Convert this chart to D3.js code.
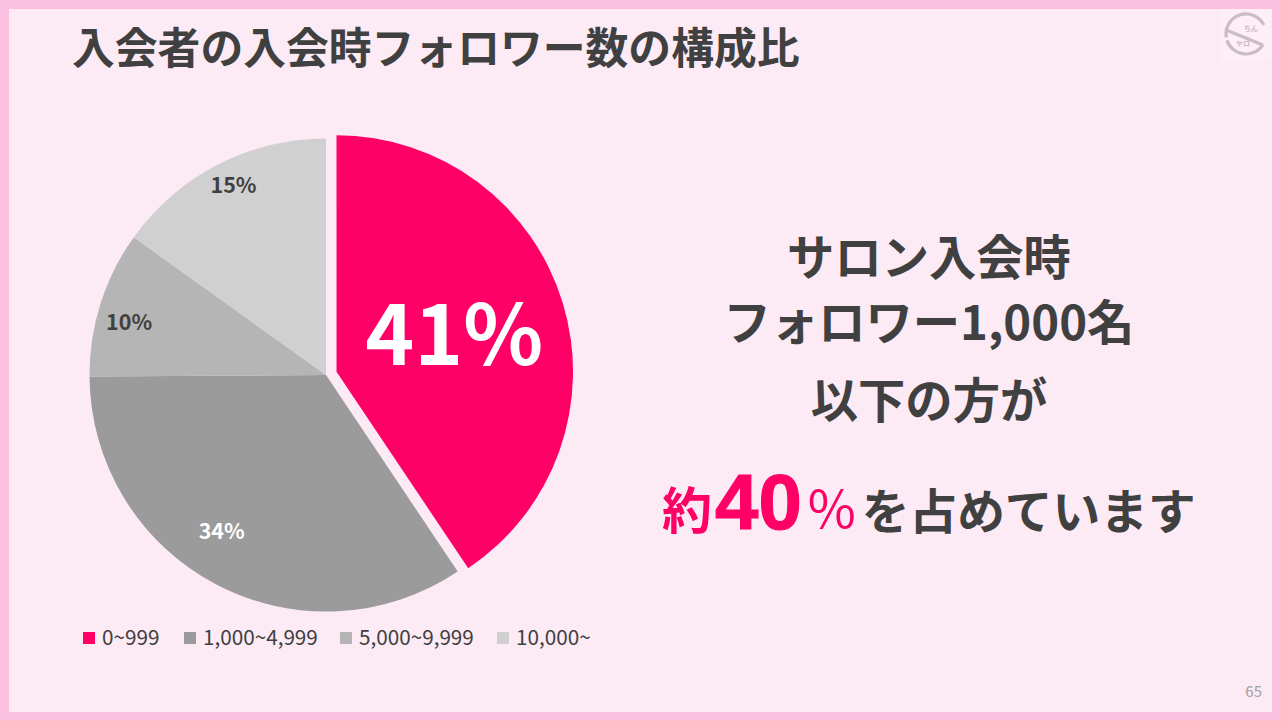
<!DOCTYPE html>
<html lang="ja">
<head>
<meta charset="utf-8">
<script src="https://cdn.jsdelivr.net/npm/d3@7"></script>
<style>
  html, body { margin: 0; padding: 0; background: #fceaf5; }
  svg { display: block; }
  text { font-family: "Noto Sans CJK JP", "Noto Sans", sans-serif; }
</style>
</head>
<body>
<div id="chart"></div>
<script>
const categories = ["0~999", "1,000~4,999", "5,000~9,999", "10,000~"];
const shares = [40.6, 34.3, 10, 15.1];
const sliceColors = ["#ff0066", "#9b9b9b", "#b5b5b5", "#d0d0d0"];
const labelColors = ["#fff", "#fff", "#404040", "#404040"];
const titleText = "入会者の入会時フォロワー数の構成比";
const pageNumber = "65";

const width = 1280, height = 720;
const pink = "#ff0066", dark = "#404040";

const svg = d3.select("#chart").append("svg")
  .attr("width", width)
  .attr("height", height);

// slide frame
svg.append("rect").attr("width", width).attr("height", height).attr("fill", "#fbc0e0");
svg.append("rect").attr("x", 9).attr("y", 9).attr("width", 1263).attr("height", 703).attr("fill", "#fceaf5");

svg.append("text")
  .attr("x", 72).attr("y", 64)
  .attr("font-size", 42.8).attr("font-weight", 700).attr("fill", dark)
  .text(titleText);

// pie, first slice pulled out
const cx = 326, cy = 375, radius = 236.5, explode = 11;
const pie = d3.pie().sort(null).value(d => d)(shares);
const arc = d3.arc().innerRadius(0).outerRadius(radius);
const pieG = svg.append("g").attr("transform", `translate(${cx},${cy})`);

function sliceShift(d, i) {
  if (i !== 0) return [0, 0];
  const a = (d.startAngle + d.endAngle) / 2;
  return [Math.sin(a) * explode, -Math.cos(a) * explode];
}

pieG.selectAll("path")
  .data(pie)
  .enter()
  .append("path")
  .attr("d", arc)
  .attr("transform", (d, i) => `translate(${sliceShift(d, i)})`)
  .attr("fill", (d, i) => sliceColors[i]);

// labels were placed by hand in the slide, so radius and angle differ per slice
const labelRadius = [0.52, 0.795, 0.862, 0.893];
const labelAngle = [0, 5.8, -2.6, 1.2];
pieG.selectAll("text")
  .data(pie)
  .enter()
  .append("text")
  .attr("transform", (d, i) => {
    const a = (d.startAngle + d.endAngle) / 2 + labelAngle[i] * Math.PI / 180;
    const s = sliceShift(d, i);
    const r = radius * labelRadius[i];
    return `translate(${Math.sin(a) * r + s[0]},${-Math.cos(a) * r + s[1]})`;
  })
  .attr("text-anchor", "middle")
  .attr("dy", "0.35em")
  .attr("font-size", (d, i) => i === 0 ? 83 : 21.5)
  .attr("font-weight", 700)
  .attr("fill", (d, i) => labelColors[i])
  .text(d => Math.round(d.value) + "%");

// legend
const legendX = [83, 184, 340, 497];
const legend = svg.selectAll("g.legend")
  .data(categories)
  .enter()
  .append("g")
  .attr("class", "legend")
  .attr("transform", (d, i) => `translate(${legendX[i]},632)`);
legend.append("rect")
  .attr("width", 12).attr("height", 12)
  .attr("fill", (d, i) => sliceColors[i]);
legend.append("text")
  .attr("x", 19).attr("y", 13)
  .attr("font-size", 20.7).attr("fill", dark)
  .text(d => d);

// message on the right
const messageLines = [
  { text: "サロン入会時", y: 275 },
  { text: "フォロワー1,000名", y: 340 },
  { text: "以下の方が", y: 418 }
];
svg.selectAll("text.msg")
  .data(messageLines)
  .enter()
  .append("text")
  .attr("class", "msg")
  .attr("x", 929).attr("y", d => d.y)
  .attr("text-anchor", "middle")
  .attr("font-size", 47.3).attr("font-weight", 700).attr("fill", dark)
  .text(d => d.text);

const last = svg.append("text").attr("x", 662).attr("y", 529).attr("font-weight", 700);
last.append("tspan").attr("font-size", 50).attr("fill", pink).text("約");
last.append("tspan").attr("dx", 3).attr("font-size", 78).attr("fill", pink)
  .attr("stroke", pink).attr("stroke-width", 1.2)
  .style("font-family", "'Liberation Sans'").text("40");
last.append("tspan").attr("dx", 4).attr("font-size", 52).attr("font-weight", 400).attr("fill", pink).text("％");
last.append("tspan").attr("dx", 4).attr("font-size", 47.7).attr("fill", dark).text("を占めています");

// logo top right, an S made of two arcs and a diagonal
const logoColor = "#c9bcc4";
const logo = svg.append("g").attr("transform", "translate(1246,34)");
logo.append("rect").attr("x", -25).attr("y", -25).attr("width", 50).attr("height", 51).attr("fill", "#fdeef7");
const logoLines = logo.append("g").attr("fill", "none").attr("stroke", logoColor).attr("stroke-width", 3.2);
const logoArc = d3.arc().innerRadius(20).outerRadius(20);
logoLines.append("path").attr("d", logoArc.startAngle(-1.75).endAngle(1.1)());
logoLines.append("path").attr("d", logoArc.startAngle(2.14).endAngle(4.4)());
logoLines.append("path").attr("d", "M-20,-4 L17,11");
logo.append("text").attr("x", 5).attr("y", -3).attr("text-anchor", "middle").attr("font-size", 7).attr("font-weight", 700).attr("fill", logoColor).text("ちん");
logo.append("text").attr("x", -3).attr("y", 12).attr("text-anchor", "middle").attr("font-size", 7).attr("font-weight", 700).attr("fill", logoColor).text("ヤロ");

svg.append("text")
  .attr("x", 1262).attr("y", 697)
  .attr("text-anchor", "end")
  .attr("font-size", 15).attr("fill", "#a0a0a0")
  .text(pageNumber);
</script>
</body>
</html>
